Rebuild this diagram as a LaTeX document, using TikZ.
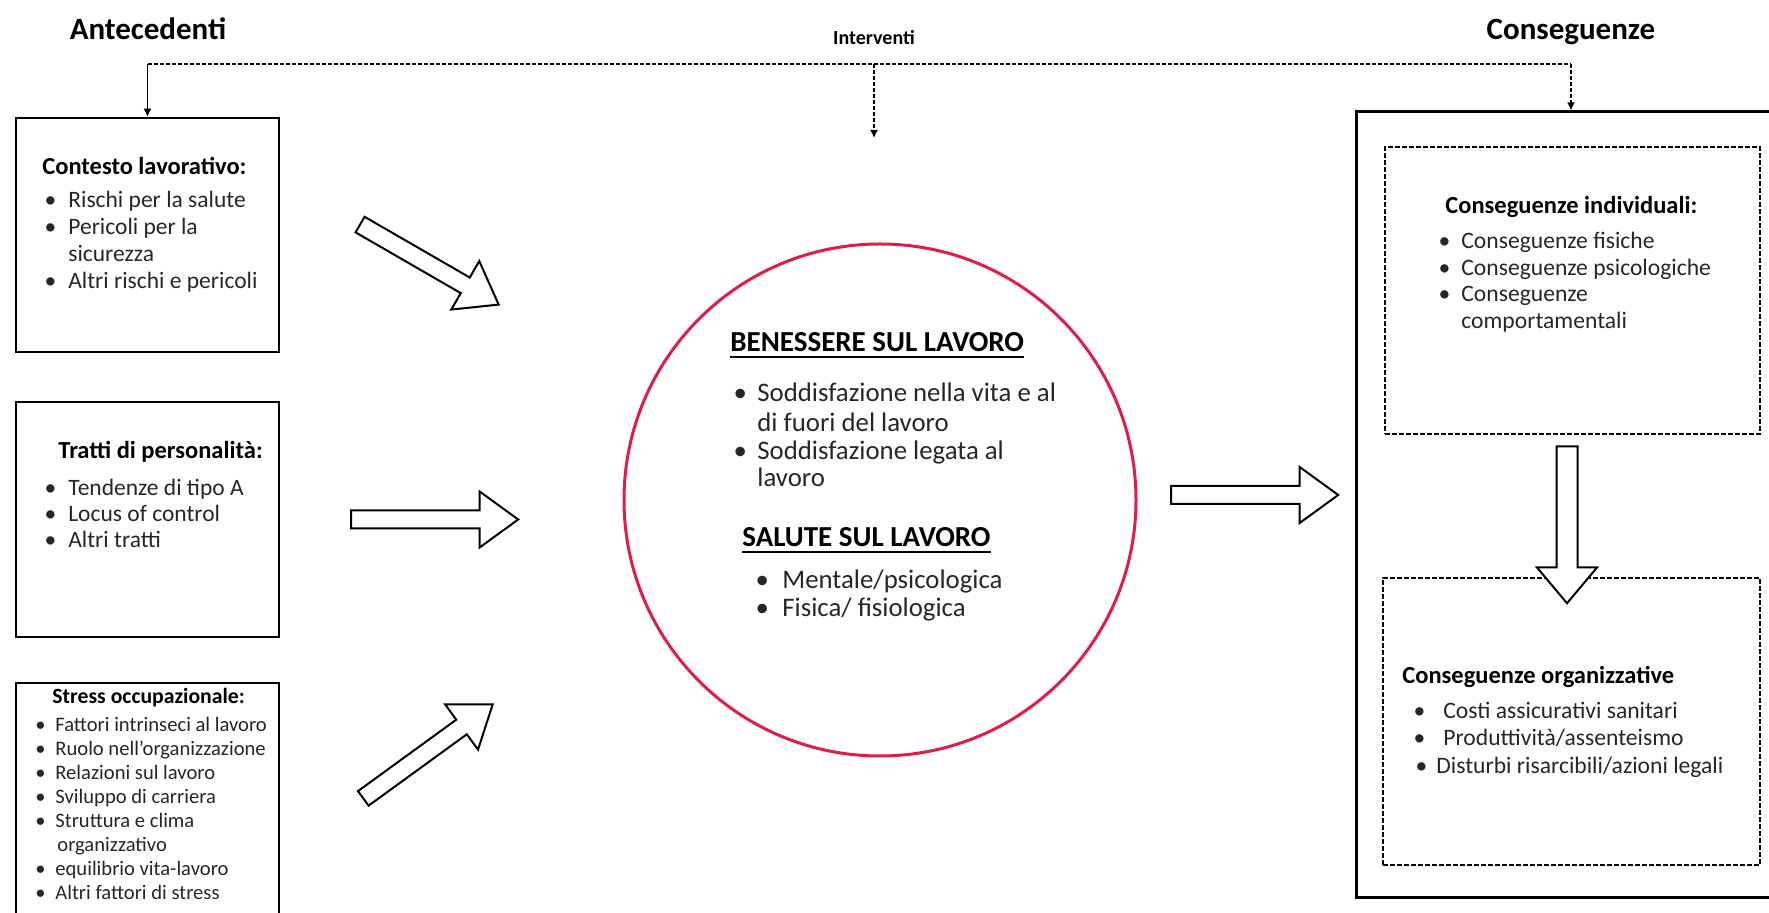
\documentclass[tikz,border=0pt]{standalone}
\usepackage{fontspec}
\setmainfont{Carlito}
\usetikzlibrary{shapes.arrows, arrows.meta, fit}
\definecolor{ringred}{RGB}{222,29,72}
\newcommand{\bgap}{9pt}
\newcommand{\bul}{\llap{\makebox[0pt]{\textbullet}\hspace{\bgap}}}
\tikzset{
    box/.style = {draw, line width = 1.3pt, inner sep = 0pt},
    dbox/.style = {draw, line width = 1.2pt, dash pattern = on 2.5pt off 1pt, inner sep = 0pt},
    ring/.style = {circle, draw = ringred, line width = 1.5pt, minimum size = 256pt, inner sep = 0pt},
    blockarrow/.style = {single arrow, draw, line width = 1pt, fill = white, inner sep = 4pt,
        minimum width = 27pt, single arrow head extend = 9.5pt, single arrow tip angle = 72,
        single arrow head indent = 0pt},
    busline/.style = {line width = 0.75pt, dash pattern = on 2pt off 1pt},
    tip/.style = {-{Latex[length = 4pt, width = 4pt]}},
    item/.style = {anchor = base west, inner sep = 0pt, text = black!85},
    head/.style = {anchor = base west, inner sep = 0pt, text = black},
    title/.style = {anchor = base, inner sep = 0pt, font = \bfseries\fontsize{15.5}{18}\selectfont}
}
\begin{document}
\begin{tikzpicture}[x = 0.5pt, y = -0.5pt]
    \useasboundingbox (0,0) rectangle (1769,913);
    \clip (0,0) rectangle (1769,913);

    \node[title] (ante) at (148,40) {Antecedenti};
    \node[title] (cons) at (1571,40) {Conseguenze};
    \node[anchor = base, inner sep = 0pt, font = \bfseries\fontsize{10}{12}\selectfont] (intv) at (874,45) {Interventi};

    \node[box, fit = {(16,118) (279,352)}] (ctx) {};
    \node[box, fit = {(16,402) (279,637)}] (pers) {};
    \node[box, fit = {(16,683) (279,940)}] (stress) {};
    \node[ring] (wb) at (880,500) {};
    \node[box, line width = 1.5pt, fit = {(1356,112) (1786,898)}] (conseq) {};
    \node[dbox, fit = {(1385,147) (1760,434)}] (indiv) {};
    \node[dbox, fit = {(1383,578) (1760,865)}] (org) {};

    \node[blockarrow, minimum height = 80pt, rotate = -30] (a1) at (424,261.5) {};
    \node[blockarrow, minimum height = 83.5pt] (a2) at (428.5,519.5) {};
    \node[blockarrow, minimum height = 80pt, rotate = 36] (a3) at (423,755) {};
    \node[blockarrow, minimum height = 83.5pt] (a4) at (1248.5,495) {};
    \node[blockarrow, inner sep = 4.75pt, minimum height = 78.5pt, minimum width = 29pt,
        single arrow head extend = 9.75pt, single arrow tip angle = 80, rotate = -90] (a5) at (1567,518.5) {};

    \coordinate (bus) at (874,64);
    \coordinate (busend) at (874,138);
    \draw[busline] (ctx.north |- bus) -- (conseq.north |- bus);
    \draw[line width = 0.6pt, tip] (ctx.north |- bus) -- (ctx.north);
    \draw[busline, tip] (bus) -- (busend);
    \draw[busline, tip] (conseq.north |- bus) -- (conseq.north);

    \begin{scope}[every node/.append style = {font = \fontsize{11.75}{14}\selectfont}]
        \node[head, font = \bfseries\fontsize{12.25}{14}\selectfont] (ctx-h) at (42,175) {Contesto lavorativo:};
        \foreach \y/\t in {208/\bul Rischi per la salute, 235/\bul Pericoli per la, 262/sicurezza, 289/\bul Altri rischi e pericoli}
            \node[item] (ctx-\y) at (68,\y) {\t};
        \node[head, font = \bfseries\fontsize{12.25}{14}\selectfont] (pers-h) at (58,459) {Tratti di personalità:};
        \foreach \y/\t in {496/\bul Tendenze di tipo A, 522/\bul Locus of control, 548/\bul Altri tratti}
            \node[item] (pers-\y) at (68,\y) {\t};
    \end{scope}

    \begin{scope}[every node/.append style = {font = \fontsize{10.3}{12}\selectfont}]
        \def\bgap{7.5pt}
        \node[head, font = \bfseries\fontsize{10.85}{12}\selectfont] (stress-h) at (52,704) {Stress occupazionale:};
        \foreach \y/\t in {732/\bul Fattori intrinseci al lavoro, 756/\bul Ruolo nell'organizzazione,
            780/\bul Relazioni sul lavoro, 804/\bul Sviluppo di carriera, 828/\bul Struttura e clima,
            852/{\hspace{1pt}organizzativo}, 876/\bul equilibrio vita-lavoro, 900/\bul Altri fattori di stress}
            \node[item] (stress-\y) at (55,\y) {\t};
    \end{scope}

    \begin{scope}[every node/.append style = {font = \fontsize{13.4}{16}\selectfont}]
        \def\bgap{8.5pt}
        \node[head, font = \bfseries\fontsize{14.5}{16}\selectfont] (ben) at (730,352) {BENESSERE SUL LAVORO};
        \draw[line width = 1pt] ([yshift = -2.5pt]ben.base west) -- ([yshift = -2.5pt]ben.base east);
        \foreach \y/\t in {402/\bul Soddisfazione nella vita e al, 432/di fuori del lavoro,
            460/\bul Soddisfazione legata al, 487/lavoro}
            \node[item] (ben-\y) at (757,\y) {\t};
        \node[head, font = \bfseries\fontsize{14.5}{16}\selectfont] (sal) at (742,547) {SALUTE SUL LAVORO};
        \draw[line width = 1pt] ([yshift = -2.5pt]sal.base west) -- ([yshift = -2.5pt]sal.base east);
        \def\bgap{10pt}
        \foreach \y/\t in {589/{\bul Mentale/psicologica}, 617/{\bul Fisica/ fisiologica}}
            \node[item] (sal-\y) at (782,\y) {\t};
    \end{scope}

    \begin{scope}[every node/.append style = {font = \fontsize{11.8}{14}\selectfont}]
        \def\bgap{8.5pt}
        \node[head, font = \bfseries\fontsize{12.25}{14}\selectfont] (indiv-h) at (1445,214) {Conseguenze individuali:};
        \foreach \y/\t in {249/\bul Conseguenze fisiche, 276/\bul Conseguenze psicologiche,
            302/\bul Conseguenze, 329/comportamentali}
            \node[item] (indiv-\y) at (1461,\y) {\t};
        \node[head, font = \bfseries\fontsize{12.25}{14}\selectfont] (org-h) at (1402,684) {Conseguenze organizzative};
        \def\bgap{12pt}
        \foreach \y/\t in {719/\bul Costi assicurativi sanitari, 746/{\bul Produttività/assenteismo}}
            \node[item] (org-\y) at (1443,\y) {\t};
        \def\bgap{7.5pt}
        \node[item] (org-774) at (1436,774) {\bul Disturbi risarcibili/azioni legali};
    \end{scope}
\end{tikzpicture}
\end{document}
